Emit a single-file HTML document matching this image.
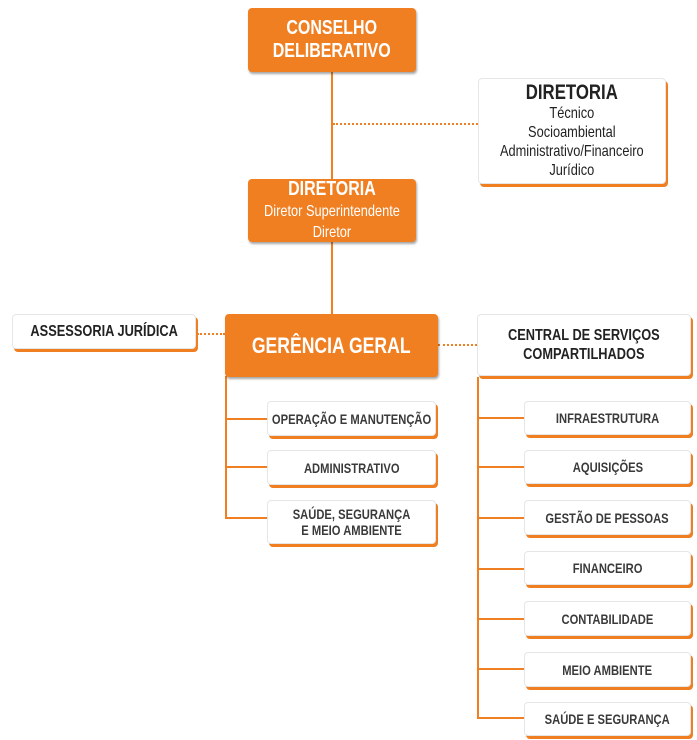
<!DOCTYPE html>
<html><head><meta charset="utf-8"><style>
body{margin:0;width:697px;height:740px;background:#fff;position:relative;overflow:hidden;font-family:"Liberation Sans",sans-serif;}
.b{position:absolute;box-sizing:border-box;display:flex;flex-direction:column;align-items:center;justify-content:center;text-align:center;overflow:visible;}
.b>span{display:inline-block;transform:scaleX(.8);white-space:nowrap;}
.o{background:#f07f22;color:#fff;border-radius:4px;box-shadow:1px 2px 2px rgba(0,0,0,.35);font-weight:bold;}
.w{background:#fff;color:#3a3a3a;border:1px solid #e6e6e6;border-radius:4px;box-shadow:2px 3px 0 #f07f22;font-weight:bold;font-size:14px;line-height:16px;}
.l{position:absolute;background:#f07f22;}
.d{position:absolute;border-top:2px dotted #f07f22;height:0;}
</style></head><body>
<div class="l" style="left:331px;top:70px;width:2px;height:246px"></div>
<div class="d" style="left:333px;top:123px;width:145px"></div>
<div class="d" style="left:197px;top:333px;width:28px"></div>
<div class="d" style="left:438px;top:344px;width:39px"></div>
<div class="l" style="left:225px;top:376px;width:2px;height:143px"></div>
<div class="l" style="left:225px;top:418px;width:42px;height:2px"></div>
<div class="l" style="left:225px;top:466px;width:42px;height:2px"></div>
<div class="l" style="left:225px;top:517px;width:42px;height:2px"></div>
<div class="l" style="left:477px;top:377px;width:2px;height:342px"></div>
<div class="l" style="left:477px;top:417px;width:47px;height:2px"></div>
<div class="l" style="left:477px;top:466px;width:47px;height:2px"></div>
<div class="l" style="left:477px;top:517px;width:47px;height:2px"></div>
<div class="l" style="left:477px;top:568px;width:47px;height:2px"></div>
<div class="l" style="left:477px;top:618px;width:47px;height:2px"></div>
<div class="l" style="left:477px;top:668px;width:47px;height:2px"></div>
<div class="l" style="left:477px;top:717px;width:47px;height:2px"></div>

<div class="b o" style="left:248px;top:8px;width:168px;height:64px;font-size:20px;line-height:23px"><span>CONSELHO<br>DELIBERATIVO</span></div>
<div class="b w" style="left:478px;top:78px;width:188px;height:106px;font-weight:normal;font-size:16px;line-height:19px;color:#222"><span><b style="font-size:21px;line-height:22px">DIRETORIA</b><br>Técnico<br>Socioambiental<br>Administrativo/Financeiro<br>Jurídico</span></div>
<div class="b o" style="left:248px;top:179px;width:168px;height:63px;font-size:20px;line-height:21px"><span>DIRETORIA<br><span style="font-weight:normal;font-size:16px;line-height:19px">Diretor Superintendente<br>Diretor</span></span></div>
<div class="b w" style="left:12px;top:314px;width:184px;height:35px;font-size:16px;color:#222"><span>ASSESSORIA JURÍDICA</span></div>
<div class="b o" style="left:225px;top:314px;width:213px;height:63px;font-size:22px"><span>GERÊNCIA GERAL</span></div>
<div class="b w" style="left:477px;top:314px;width:214px;height:62px;font-size:16px;line-height:19px;color:#222"><span>CENTRAL DE SERVIÇOS<br>COMPARTILHADOS</span></div>

<div class="b w" style="left:267px;top:401px;width:169px;height:35px"><span>OPERAÇÃO E MANUTENÇÃO</span></div>
<div class="b w" style="left:267px;top:450px;width:169px;height:35px"><span>ADMINISTRATIVO</span></div>
<div class="b w" style="left:267px;top:500px;width:169px;height:44px"><span>SAÚDE, SEGURANÇA<br>E MEIO AMBIENTE</span></div>

<div class="b w" style="left:524px;top:401px;width:167px;height:34px"><span>INFRAESTRUTURA</span></div>
<div class="b w" style="left:524px;top:450px;width:167px;height:34px"><span>AQUISIÇÕES</span></div>
<div class="b w" style="left:524px;top:500px;width:167px;height:35px"><span>GESTÃO DE PESSOAS</span></div>
<div class="b w" style="left:524px;top:551px;width:167px;height:34px"><span>FINANCEIRO</span></div>
<div class="b w" style="left:524px;top:601px;width:167px;height:35px"><span>CONTABILIDADE</span></div>
<div class="b w" style="left:524px;top:652px;width:167px;height:35px"><span>MEIO AMBIENTE</span></div>
<div class="b w" style="left:524px;top:702px;width:167px;height:34px"><span>SAÚDE E SEGURANÇA</span></div>
</body></html>
